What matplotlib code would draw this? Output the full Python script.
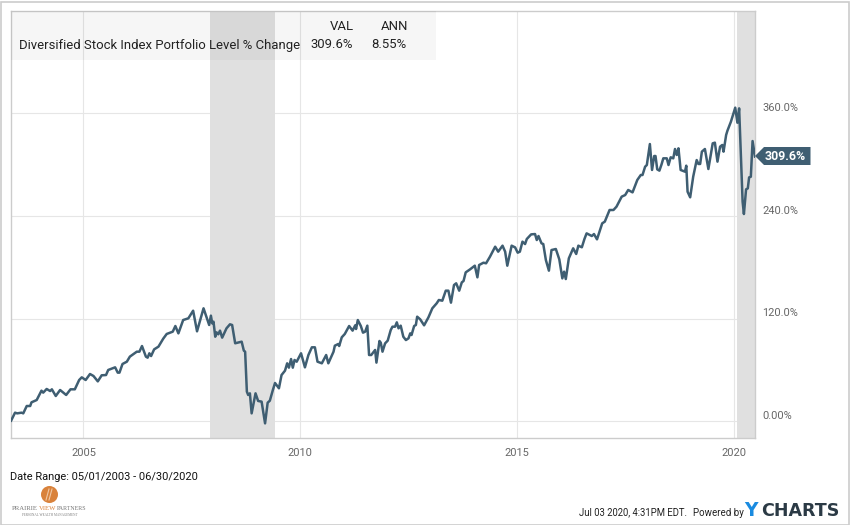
import matplotlib
matplotlib.use("Agg")
import matplotlib.pyplot as plt
from matplotlib.patches import Rectangle, Polygon, Circle
from matplotlib.transforms import ScaledTranslation
import numpy as np

years = [2003.33,2003.42,2003.47,2003.57,2003.61,2003.69,2003.77,2003.80,2003.92,2004.03,2004.07,2004.15,2004.23,2004.27,2004.36,2004.46,2004.60,2004.70,2004.80,2004.90,2004.96,
2005.05,2005.15,2005.23,2005.33,2005.42,2005.52,2005.57,2005.73,2005.79,2005.83,2005.90,2006.00,2006.07,2006.23,2006.29,2006.35,2006.44,2006.48,2006.52,2006.56,2006.63,2006.73,2006.84,2006.92,
2007.06,2007.12,2007.19,2007.30,2007.42,2007.53,2007.62,2007.77,2007.90,2007.94,2007.97,2008.00,2008.04,2008.07,2008.11,2008.15,2008.20,2008.30,2008.38,2008.43,2008.50,2008.65,2008.70,2008.73,2008.77,2008.80,2008.84,2008.88,2008.97,
2009.03,2009.11,2009.19,2009.25,2009.30,2009.37,2009.42,2009.51,2009.57,2009.65,2009.70,2009.74,2009.79,2009.83,2009.87,2009.92,
2010.02,2010.11,2010.19,2010.27,2010.34,2010.40,2010.50,2010.60,2010.65,2010.77,2010.80,2010.88,2010.90,2010.96,
2011.03,2011.13,2011.21,2011.27,2011.29,2011.33,2011.40,2011.45,2011.50,2011.55,2011.59,2011.64,2011.73,2011.76,2011.83,2011.86,2011.90,2011.96,
2012.02,2012.09,2012.13,2012.19,2012.23,2012.27,2012.32,2012.38,2012.44,2012.50,2012.54,2012.57,2012.63,2012.67,2012.70,2012.77,2012.86,2012.96,
2013.05,2013.15,2013.20,2013.28,2013.36,2013.42,2013.48,2013.55,2013.60,2013.67,2013.73,2013.77,2013.82,2013.92,
2014.03,2014.09,2014.13,2014.23,2014.29,2014.38,2014.50,2014.57,2014.67,2014.73,2014.78,2014.88,2014.96,
2015.02,2015.07,2015.13,2015.19,2015.23,2015.33,2015.42,2015.46,2015.50,2015.57,2015.61,2015.67,2015.74,2015.80,2015.90,2015.98,
2016.05,2016.09,2016.13,2016.20,2016.30,2016.37,2016.42,2016.50,2016.56,2016.61,2016.73,2016.78,2016.85,2016.92,2016.97,
2017.03,2017.14,2017.23,2017.30,2017.42,2017.50,2017.57,2017.67,2017.78,2017.86,2017.90,2017.96,
2018.00,2018.07,2018.12,2018.17,2018.20,2018.24,2018.29,2018.34,2018.38,2018.46,2018.50,2018.55,2018.61,2018.65,2018.69,2018.73,2018.78,2018.88,2018.91,2018.94,
2019.00,2019.07,2019.15,2019.19,2019.23,2019.27,2019.34,2019.42,2019.52,2019.57,2019.63,2019.69,2019.74,2019.77,2019.83,2019.86,2019.94,
2020.04,2020.09,2020.13,2020.21,2020.24,2020.29,2020.33,2020.36,2020.40,2020.44,2020.496]
pct = [1.0,10.3,9.5,10.3,9.5,18.1,18.1,22.4,25.1,36.0,33.7,38.0,35.6,37.6,29.8,36.8,31.0,37.6,37.6,48.5,51.6,
48.5,55.5,53.2,46.9,54.0,54.3,60.2,63.3,57.1,57.1,67.2,69.9,75.8,81.6,81.6,88.2,75.8,74.6,79.7,76.5,84.3,87.5,96.8,102.3,
105.0,111.6,103.0,118.6,120.6,129.5,105.4,132.3,112.8,123.7,114.7,116.7,99.1,104.2,101.9,106.2,98.0,108.9,113.6,112.8,91.4,93.3,82.8,81.6,34.9,31.0,32.9,9.5,32.9,
24.0,23.2,-2.2,22.0,24.3,36.8,45.0,38.8,54.3,59.4,68.0,62.9,73.0,62.9,71.9,69.9,
79.7,63.3,77.7,86.7,86.7,69.9,68.0,77.7,68.0,81.6,88.6,90.6,88.2,98.4,
102.3,111.6,106.2,112.4,108.1,118.6,111.6,103.8,105.0,112.0,77.7,77.7,83.6,68.8,94.1,92.1,81.6,91.3,
94.5,106.9,110.8,110.8,115.9,108.9,112.0,99.1,95.2,97.2,103.0,101.1,111.6,112.8,122.5,119.4,112.4,121.7,
132.3,138.1,142.0,141.2,152.9,152.9,138.9,159.5,161.5,152.9,162.6,164.2,174.3,177.8,
182.1,168.5,182.9,185.6,184.9,192.6,204.3,198.5,205.5,198.5,182.1,205.5,203.5,
197.3,198.5,210.2,207.4,213.3,218.7,219.1,212.1,216.8,208.2,207.4,188.7,176.3,200.4,201.6,189.5,
167.3,175.1,166.5,190.7,202.4,195.8,205.5,203.6,213.3,219.9,216.8,219.1,212.9,223.8,231.6,
233.6,247.2,247.2,251.1,262.8,264.7,270.6,267.8,282.3,288.1,288.1,297.8,
299.8,324.3,294.0,310.3,310.3,294.7,293.2,300.6,307.6,307.6,299.8,308.8,307.6,318.5,311.5,319.3,294.0,292.0,299.0,268.6,
262.0,286.2,305.6,301.0,301.0,315.4,318.5,295.1,325.1,325.9,303.7,321.2,323.2,315.4,334.9,339.9,350.4,
366.8,349.2,366.0,256.9,242.5,271.3,272.5,285.3,286.1,327.8,309.6]

recessions = [(2007.92, 2009.42), (2020.08, 2020.496)]
x_ticks = [2005, 2010, 2015, 2020]
y_ticks = [0, 120, 240, 360]
y_labels = ["0.00%", "120.0%", "240.0%", "360.0%"]
series_name = "Diversified Stock Index Portfolio Level % Change"
val_text, ann_text = "309.6%", "8.55%"

W, H = 850, 525
FONT = "Roboto"
LINE = "#3f5e72"
fig = plt.figure(figsize=(W/100, H/100), dpi=100, facecolor="white")
ax = fig.add_axes([11/W, 1-438/H, 744/W, 427/H])

def T(px, py, s, **kw):
    kw.setdefault("family", FONT)
    return fig.text(px/W, 1-py/H, s, **kw)

fig.add_artist(Rectangle((0.5/W, 0.5/H), (W-1.5)/W, (H-2)/H, transform=fig.transFigure,
                         fc="none", ec="#cccccc", lw=1.2))

ax.set_xlim(2003.327, 2020.496)
ax.set_ylim(-19.3, 479.8)
ax.set_axisbelow(True)
ax.grid(True, color="#e6e6e6", lw=0.8)
for a, b in recessions:
    ax.axvspan(a, b, fc="#e0e0e0", ec="none", zorder=1)
ax.plot(years, pct, color=LINE, lw=1.8, zorder=3, solid_joinstyle="round", clip_on=True)

ax.set_xticks(x_ticks)
ax.set_xticklabels([str(x) for x in x_ticks], family=FONT, fontsize=7.9, color="#666666")
ax.yaxis.tick_right()
ax.set_yticks(y_ticks)
ax.set_yticklabels(y_labels, family=FONT, fontsize=7.9, color="#666666")
ax.tick_params(axis="both", length=0)
ax.tick_params(axis="x", pad=7.5)
ax.tick_params(axis="y", pad=5)
up = ScaledTranslation(0, 6.5/100, fig.dpi_scale_trans)
for lab in ax.get_yticklabels():
    lab.set_transform(lab.get_transform() + up)
for sp in ax.spines.values():
    sp.set_color("#cccccc")
    sp.set_linewidth(1.0)

# legend table
fig.add_artist(Rectangle((11/W, 1-60/H), 425/W, 49/H, transform=fig.transFigure,
                         fc="black", ec="none", alpha=0.035, zorder=4))
kw = dict(fontsize=9.43, color="#222222", va="center", zorder=5)
T(19, 45, series_name, ha="left", **kw)
T(354, 27, "VAL", ha="right", **kw)
T(353, 45, val_text, ha="right", **kw)
T(408, 27, "ANN", ha="right", **kw)
T(407, 45, ann_text, ha="right", **kw)

# last value flag
fig.add_artist(Polygon([(755/W, 1-156/H), (764/W, 1-147/H), (810.5/W, 1-147/H),
                        (810.5/W, 1-165/H), (764/W, 1-165/H)], closed=True,
                       transform=fig.transFigure, fc=LINE, ec="none", zorder=5))
T(785.5, 156.5, "309.6%", ha="center", va="center", color="white", fontsize=8.9,
  fontweight="bold", zorder=6)

# footer
T(10, 477.5, "Date Range: 05/01/2003 - 06/30/2020", ha="left", va="center", fontsize=7.95, color="#111111")
T(579, 512.5, "Jul 03 2020, 4:31PM EDT.", ha="left", va="center", fontsize=6.85, color="#222222")
T(693, 512.5, "Powered by", ha="left", va="center", fontsize=7.0, color="#222222")
T(744, 511, "Y", ha="left", va="center", fontsize=13.5, fontweight="bold", color="#1a8be0", family="DejaVu Sans")
T(761.5, 511, "CHARTS", ha="left", va="center", fontsize=12.6, fontweight="bold", color="#2b3a45", family="DejaVu Sans")

# logo
fig.add_artist(Circle((49.5/100, (H-494.5)/100), 8.5/100, transform=fig.dpi_scale_trans,
                      fc="#d9823b", ec="none"))
for dx in (-2, 1):
    fig.add_artist(plt.Line2D([(48+dx)/W, (51+dx)/W], [1-500/H, 1-489/H], color="#f0c8a4", lw=0.8))
t_y = 508.5
SERIF = "Liberation Serif"
T(12, t_y, "PRAIRIE", family=SERIF, fontsize=4.9, color="#777777", va="center", ha="left")
T(39, t_y, "VIEW", family=SERIF, fontsize=4.9, color="#d9823b", va="center", ha="left")
T(57, t_y, "PARTNERS", family=SERIF, fontsize=4.3, color="#777777", va="center", ha="left")
T(22, 515.5, "PERSONAL WEALTH MANAGEMENT", family=SERIF, fontsize=2.3, color="#777777", va="center", ha="left")

fig.savefig("out.png", dpi=100)
